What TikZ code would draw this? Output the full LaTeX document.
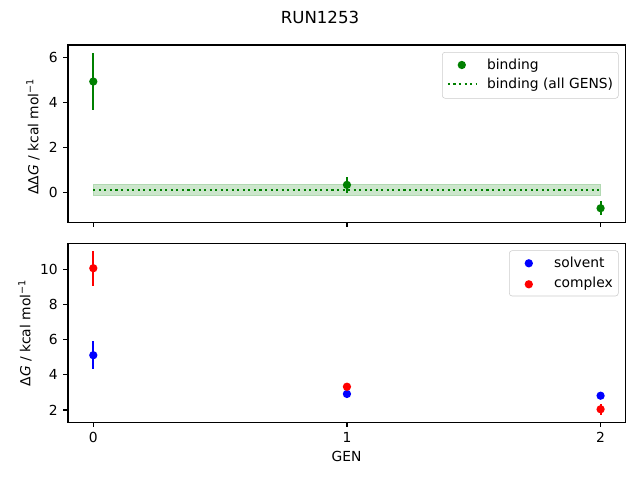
\documentclass[tikz,border=0pt]{standalone}
\usepackage{fontspec}
\setmainfont{DejaVu Sans}
\usepackage{tikz}
\usetikzlibrary{positioning}
\definecolor{mplgreen}{HTML}{008000}
\definecolor{bandgreen}{RGB}{204,230,204}
\definecolor{legedge}{RGB}{204,204,204}

\begin{document}
\begin{tikzpicture}[x=0.01in,y=0.01in,
    ticklab/.style={inner sep=0pt},
    spine/.style={line width=0.8pt},
    errbar/.style={line width=1.5pt},
    dotline/.style={mplgreen,line width=1.5pt,dash pattern=on 1.5pt off 2.5pt},
    legbox/.style={draw=legedge,fill=white,fill opacity=0.8,rounded corners=2pt}]
     \useasboundingbox (0,0) rectangle (640,480);
     \node[font=\large] (title) at (320,463) {RUN1253};
     % upper panel
     \begin{scope}[shift={(93.3,287.7)},x=2.535in,y=0.2245in]
      \fill[bandgreen,draw=green!50!black!30] (0,-0.15) rectangle (2,0.36);
      \draw[dotline] (0,0.10) -- (2,0.10);
      \foreach \g/\v/\e in {0/4.93/1.25, 1/0.33/0.35, 2/-0.71/0.31}
       {
        \draw[errbar,mplgreen] (\g,\v-\e) -- (\g,\v+\e);
        \fill[mplgreen] (\g,\v) circle(3pt);
       }
      \foreach \t in {0,2,4,6}
       \draw[spine] (-0.1,\t) -- ++(-3.5pt,0) node[ticklab,anchor=east,xshift=-3.5pt] (ytop\t) {\t};
      \foreach \g in {0,1,2}
       \draw[spine] (\g,-1.35) -- ++(0,-3.5pt);
     \end{scope}
     \draw[spine] (68,257.3) rectangle (625.7,435);
     \node[rotate=90] (ylabtop) at (33,343.5) {ΔΔ\textit{G} / kcal mol\textsuperscript{−1}};
     \draw[legbox] (442.3,381.7) rectangle (618.3,427.7);
     \fill[mplgreen] (461.8,415) circle(3pt);
     \draw[dotline] (447.9,395.7) -- (475.7,395.7);
     \node[anchor=base west,inner sep=0pt] (legbind) at (486.8,410.7) {binding};
     \node[anchor=base west,inner sep=0pt] (legall) at (486.8,391) {binding (all GENS)};
     % lower panel
     \begin{scope}[shift={(93.3,34.8)},x=2.535in,y=0.176in]
      \foreach \g/\v/\e in {0/5.11/0.78, 1/2.91/0.1, 2/2.81/0.1}
       {
        \draw[errbar,blue] (\g,\v-\e) -- (\g,\v+\e);
        \fill[blue] (\g,\v) circle(3pt);
       }
      \foreach \g/\v/\e in {0/10.05/0.99, 1/3.32/0.1, 2/2.04/0.3}
       {
        \draw[errbar,red] (\g,\v-\e) -- (\g,\v+\e);
        \fill[red] (\g,\v) circle(3pt);
       }
      \foreach \t in {2,4,6,8,10}
       \draw[spine] (-0.1,\t) -- ++(-3.5pt,0) node[ticklab,anchor=east,xshift=-3.5pt] (ybot\t) {\t};
      \foreach \g in {0,1,2}
       \draw[spine] (\g,1.30) -- ++(0,-3.5pt) node[ticklab,anchor=north,yshift=-3.5pt] (xbot\g) {\g};
     \end{scope}
     \draw[spine] (68,57.7) rectangle (625.7,236.7);
     \node[rotate=90] (ylabbot) at (25,147) {Δ\textit{G} / kcal mol\textsuperscript{−1}};
     \node[anchor=base] (xlab) at (346.6,18.3) {GEN};
     \draw[legbox] (509.3,184) rectangle (618.3,229.3);
     \fill[blue] (528.8,216.7) circle(3pt);
     \fill[red] (528.8,195.7) circle(3pt);
     \node[anchor=base west,inner sep=0pt] (legsolv) at (553.8,212.3) {solvent};
     \node[anchor=base west,inner sep=0pt] (legcplx) at (553.8,192.6) {complex};
    \end{tikzpicture}
\end{document}
